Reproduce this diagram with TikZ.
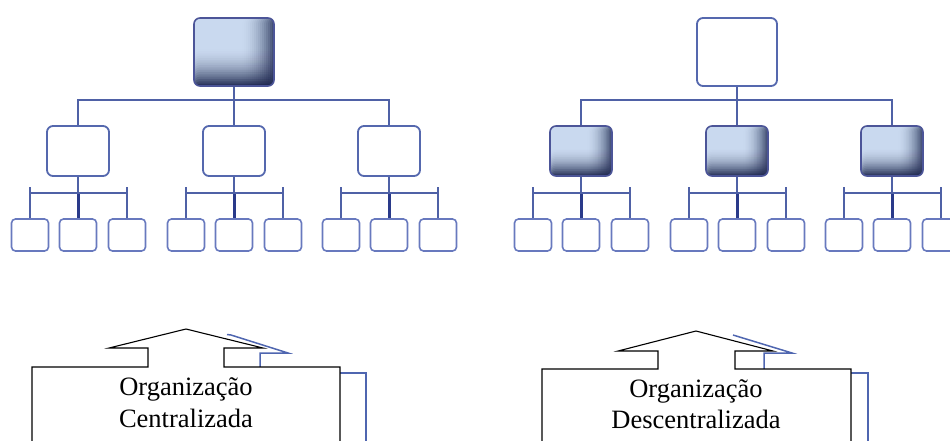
\documentclass[tikz,border=0pt]{standalone}
\usepackage{fontspec}
\setmainfont{Liberation Serif}
\usetikzlibrary{calc}

\definecolor{boxfill}{HTML}{C9D9EF}
\definecolor{boxdark}{HTML}{1E2650}
\definecolor{boxline}{HTML}{5568AE}
\definecolor{shadeline}{HTML}{4C5598}
\definecolor{leafline}{HTML}{6879BE}
\definecolor{connline}{HTML}{4F61A6}
\definecolor{stemline}{HTML}{2A3A8A}
\definecolor{depthblue}{HTML}{4F66B0}

% inner shadow of a highlighted box, built from stacked translucent bands;
% band k covers from its start to the edge, so the stack darkens towards the edge
\newcommand\innershade[3]{% #1 start fraction, #2 final opacity, #3 direction (v or h)
  \foreach \k in {0,...,15}{
    \pgfmathsetmacro\pa{#2*((\k)/16)^2}
    \pgfmathsetmacro\pb{#2*((\k+1)/16)^2}
    \pgfmathsetmacro\op{1-(1-\pb)/(1-\pa)}
    \pgfmathsetmacro\st{#1+(1-#1)*\k/16}
    \if#3v
      \fill[boxdark, opacity=\op]
        ($(path picture bounding box.north west)!\st!(path picture bounding box.south west)$)
        rectangle (path picture bounding box.south east);
    \else
      \fill[boxdark, opacity=\op]
        ($(path picture bounding box.south west)!\st!(path picture bounding box.south east)$)
        rectangle (path picture bounding box.north east);
    \fi
  }%
}

\tikzset{
  plainbox/.style={draw=boxline, line width=1.8pt, rounded corners=6pt, fill=white, inner sep=0pt},
  shadedbox/.style={draw=shadeline, line width=1.6pt, rounded corners=6pt, fill=boxfill, inner sep=0pt,
    path picture={\innershade{0.45}{0.9}{v}\innershade{0.6}{0.75}{h}}},
  leafbox/.style={draw=leafline, line width=1.6pt, rounded corners=4pt, fill=white, inner sep=0pt,
    minimum width=37pt, minimum height=32pt},
  conn/.style={draw=connline, line width=1.5pt},
  stem/.style={draw=stemline, line width=3pt},
  depth/.style={draw=depthblue, line width=1.5pt, line join=miter},
  callout/.style={draw=black, line width=1.1pt, fill=white, line join=miter},
  caption/.style={anchor=base, inner sep=0pt, font=\fontsize{26.5}{31}\selectfont}
}

% one organisation chart: #1 name prefix, #2 centre x, #3 style of the head box, #4 style of the middle boxes
\newcommand\orgchart[4]{%
  \node[#3, minimum width=80pt, minimum height=68pt] (#1t) at (#2,52) {};
  \coordinate (#1bus) at (#2,100);
  \foreach \i/\dx in {1/-156,2/0,3/155}{
    \node[#4, minimum width=62pt, minimum height=50pt] (#1m\i) at (#2+\dx,151) {};
    \foreach \j/\ex in {1/-48,2/0,3/49}{
      \node[leafbox] (#1l\i\j) at (#2+\dx+\ex,235) {};
    }
    \draw[conn] (#1m\i.south) -- ++(0,16) coordinate (#1s\i);
    \draw[stem] (#1s\i) -- (#1l\i2.north);
    \draw[conn] (#1l\i1.north |- #1s\i) -- (#1l\i3.north |- #1s\i);
    \draw[conn] (#1l\i1.north) -- ++(0,-31);
    \draw[conn] (#1l\i3.north) -- ++(0,-31);
  }
  \draw[conn] (#1t.south) -- (#1bus) -- (#1m2.north);
  \draw[conn] (#1m1.north) -- (#1m1.north |- #1bus) -- (#1m3.north |- #1bus) -- (#1m3.north);
}

\begin{document}
\begin{tikzpicture}[x=1pt, y=-1pt]
  \useasboundingbox (0,0) rectangle (950,440);
  \clip (0,0) rectangle (950,440);

  % centralised chart: only the head is highlighted
  \orgchart{L}{234}{shadedbox}{plainbox}
  % decentralised chart: the three middle boxes are highlighted
  \orgchart{R}{737}{plainbox}{shadedbox}

  % left caption arrow with its blue depth edges
  \draw[depth] (227,334.5) -- (231,335) -- (288,353) -- (260,353) -- (260,368);
  \draw[depth] (340,373) -- (366,373) -- (366,446);
  \draw[callout] (32,446) -- (32,367) -- (148,367) -- (148,348) -- (109,348) -- (186,329)
    -- (263,348) -- (224,348) -- (224,367) -- (340,367) -- (340,446);
  \node[caption] (capL1) at (186,395) {Organização};
  \node[caption] (capL2) at (186,427) {Centralizada};

  % right caption arrow with its blue depth edges
  \draw[depth] (733,335) -- (792,353) -- (764,353) -- (764,370);
  \draw[depth] (851,373) -- (868,373) -- (868,446);
  \draw[callout] (542,446) -- (542,369) -- (658,369) -- (658,351) -- (618,351) -- (696,331)
    -- (773,351) -- (735,351) -- (735,369) -- (851,369) -- (851,446);
  \node[caption] (capR1) at (696,397) {Organização};
  \node[caption] (capR2) at (696,428) {Descentralizada};
\end{tikzpicture}
\end{document}
